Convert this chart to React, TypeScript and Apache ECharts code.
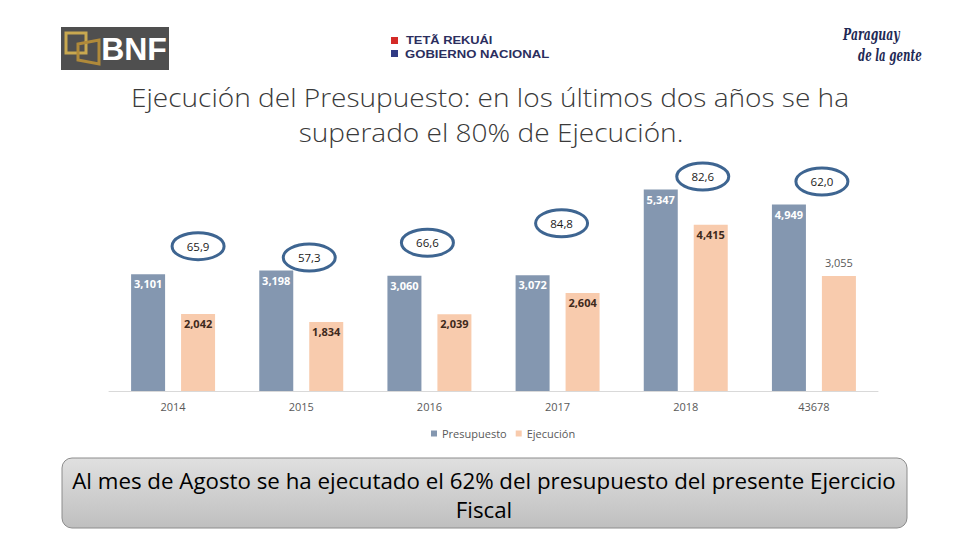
import React, { useEffect, useRef } from "react";
import * as echarts from "echarts";

const CATEGORIES = ["2014", "2015", "2016", "2017", "2018", "43678"];
const PRESUPUESTO = [3101, 3198, 3060, 3072, 5347, 4949];
const EJECUCION = [2042, 1834, 2039, 2604, 4415, 3055];
const PORCENTAJE = [65.9, 57.3, 66.6, 84.8, 82.6, 62.0];

// ellipse annotation offsets (px) relative to the top of the Presupuesto bar's category
const ELLIPSE_OFFSETS: [number, number][] = [
  [25, -28],
  [8, -13],
  [-2, -33],
  [4, -52],
  [17, -13],
  [8, -23],
];

const fmt = (v: number) => v.toLocaleString("en-US");

export default function App() {
  const ref = useRef<HTMLDivElement>(null);
  useEffect(() => {
    if (!ref.current) return;
    const chart = echarts.init(ref.current, undefined, { renderer: "svg" });
    const font = "'Open Sans', 'Noto Sans', sans-serif";
    chart.setOption({
      animation: false,
      textStyle: { fontFamily: font },
      grid: { left: 109, right: 82, top: 165, bottom: 149 },
      legend: {
        data: ["Presupuesto", "Ejecución"],
        left: 426,
        top: 423,
        itemWidth: 6,
        itemHeight: 6,
        itemGap: 9,
        icon: "rect",
        textStyle: { color: "#595959", fontSize: 11, fontFamily: font },
      },
      xAxis: {
        type: "category",
        data: CATEGORIES,
        axisLine: { lineStyle: { color: "#d9d9d9", width: 1 } },
        axisTick: { show: false },
        axisLabel: { color: "#595959", fontSize: 11, margin: 10 },
      },
      yAxis: {
        type: "value",
        min: 0,
        max: 6000,
        show: false,
        splitLine: { show: false },
      },
      series: [
        {
          name: "Presupuesto",
          type: "bar",
          data: PRESUPUESTO,
          barWidth: 34,
          barGap: "47%",
          itemStyle: { color: "#8497b0" },
          label: {
            show: true,
            position: "insideTop",
            distance: 4,
            color: "#ffffff",
            fontSize: 11,
            fontWeight: "bold",
            formatter: (p: any) => fmt(p.value),
          },
        },
        {
          name: "Ejecución",
          type: "bar",
          data: EJECUCION.map((v, i) =>
            i === EJECUCION.length - 1
              ? {
                  value: v,
                  label: {
                    position: "top",
                    distance: 8,
                    color: "#595959",
                    fontWeight: "normal",
                  },
                }
              : v
          ),
          barWidth: 34,
          itemStyle: { color: "#f8cbad" },
          label: {
            show: true,
            position: "insideTop",
            distance: 4,
            color: "#3f2a1c",
            fontSize: 11,
            fontWeight: "bold",
            formatter: (p: any) => fmt(p.value),
          },
        },
        {
          type: "custom",
          name: "pct",
          z: 10,
          clip: false,
          encode: { x: 0, y: 1 },
          data: PORCENTAJE.map((p, i) => [i, PRESUPUESTO[i], p]),
          renderItem: (params: any, api: any) => {
            const i = api.value(0);
            const pt = api.coord([i, api.value(1)]);
            const off = ELLIPSE_OFFSETS[i];
            const cx = pt[0] + off[0];
            const cy = pt[1] + off[1];
            const txt = api.value(2).toFixed(1).replace(".", ",");
            return {
              type: "group",
              children: [
                {
                  type: "ellipse",
                  shape: { cx, cy, rx: 26, ry: 13.5 },
                  style: { fill: "#ffffff", stroke: "#3e6591", lineWidth: 3 },
                },
                {
                  type: "text",
                  x: cx,
                  y: cy,
                  style: {
                    text: txt,
                    fill: "#1a1a1a",
                    fontSize: 11.5,
                    fontFamily: font,
                    align: "center",
                    verticalAlign: "middle",
                  },
                },
              ],
            };
          },
        },
      ],
      graphic: [
        // BNF logo
        {
          type: "rect",
          shape: { x: 61, y: 27, width: 108, height: 43 },
          style: { fill: "#4f4f4f" },
        },
        {
          type: "polygon",
          shape: { points: [[66, 33], [86, 33], [86, 53], [66, 53]] },
          style: { fill: "none", stroke: "#c8a850", lineWidth: 3 },
        },
        {
          type: "polygon",
          shape: { points: [[78, 44], [99, 40], [99, 64], [78, 60]] },
          style: { fill: "none", stroke: "#b08a3a", lineWidth: 3 },
        },
        {
          type: "text",
          x: 134,
          y: 49,
          style: {
            text: "BNF",
            fill: "#ffffff",
            fontSize: 32,
            fontWeight: "bold",
            fontFamily: "'Liberation Sans', Arial, sans-serif",
            align: "center",
            verticalAlign: "middle",
          },
        },
        // Gobierno logo
        { type: "rect", shape: { x: 391, y: 37, width: 7, height: 7 }, style: { fill: "#d42a27" } },
        { type: "rect", shape: { x: 391, y: 50, width: 7, height: 7 }, style: { fill: "#303a84" } },
        {
          type: "text",
          x: 406,
          y: 40.5,
          scaleX: 1.12,
          style: {
            text: "TETÃ REKUÁI",
            fill: "#2b2e5e",
            fontSize: 11.5,
            fontWeight: "bold",
            fontFamily: "'Liberation Sans', Arial, sans-serif",
            verticalAlign: "middle",
          },
        },
        {
          type: "text",
          x: 405,
          y: 54,
          scaleX: 1.14,
          style: {
            text: "GOBIERNO NACIONAL",
            fill: "#2b2e5e",
            fontSize: 11.5,
            fontWeight: "bold",
            fontFamily: "'Liberation Sans', Arial, sans-serif",
            verticalAlign: "middle",
          },
        },
        // Paraguay de la gente
        {
          type: "text",
          x: 843,
          y: 34,
          scaleX: 0.68,
          style: {
            text: "Paraguay",
            fill: "#1f2a55",
            fontSize: 16,
            fontStyle: "italic",
            fontWeight: "bold",
            fontFamily: "'DejaVu Serif', serif",
            verticalAlign: "middle",
          },
        },
        {
          type: "text",
          x: 858,
          y: 55,
          scaleX: 0.64,
          style: {
            text: "de la gente",
            fill: "#1f2a55",
            fontSize: 16,
            fontStyle: "italic",
            fontWeight: "bold",
            fontFamily: "'DejaVu Serif', serif",
            verticalAlign: "middle",
          },
        },
        // Title
        {
          type: "text",
          x: 490,
          y: 97.5,
          scaleX: 1.1,
          style: {
            text: "Ejecución del Presupuesto: en los últimos dos años se ha",
            fill: "#3a3a3a",
            fontSize: 25.5,
            fontWeight: 300,
            fontFamily: "'Open Sans', sans-serif",
            align: "center",
            verticalAlign: "middle",
          },
        },
        {
          type: "text",
          x: 491,
          y: 132.5,
          scaleX: 1.1,
          style: {
            text: "superado el 80% de Ejecución.",
            fill: "#3a3a3a",
            fontSize: 25.5,
            fontWeight: 300,
            fontFamily: "'Open Sans', sans-serif",
            align: "center",
            verticalAlign: "middle",
          },
        },
        // Bottom box
        {
          type: "rect",
          shape: { x: 62, y: 458, width: 845, height: 70, r: 10 },
          style: {
            fill: new echarts.graphic.LinearGradient(0, 0, 0, 1, [
              { offset: 0, color: "#e0e0e0" },
              { offset: 1, color: "#bfbfbf" },
            ]),
            stroke: "#8c8c8c",
            lineWidth: 1,
          },
        },
        {
          type: "text",
          x: 484,
          y: 480.5,
          scaleX: 1.0,
          style: {
            text: "Al mes de Agosto se ha ejecutado el 62% del presupuesto del presente Ejercicio",
            fill: "#000000",
            fontSize: 22.3,
            fontFamily: "'Open Sans', sans-serif",
            align: "center",
            verticalAlign: "middle",
          },
        },
        {
          type: "text",
          x: 484,
          y: 509.5,
          style: {
            text: "Fiscal",
            fill: "#000000",
            fontSize: 22.3,
            fontFamily: "'Open Sans', sans-serif",
            align: "center",
            verticalAlign: "middle",
          },
        },
      ],
    });
    return () => chart.dispose();
  }, []);
  return (
    <div
      ref={ref}
      style={{ position: "fixed", left: 0, top: 0, width: 960, height: 540, background: "#fff" }}
    />
  );
}
